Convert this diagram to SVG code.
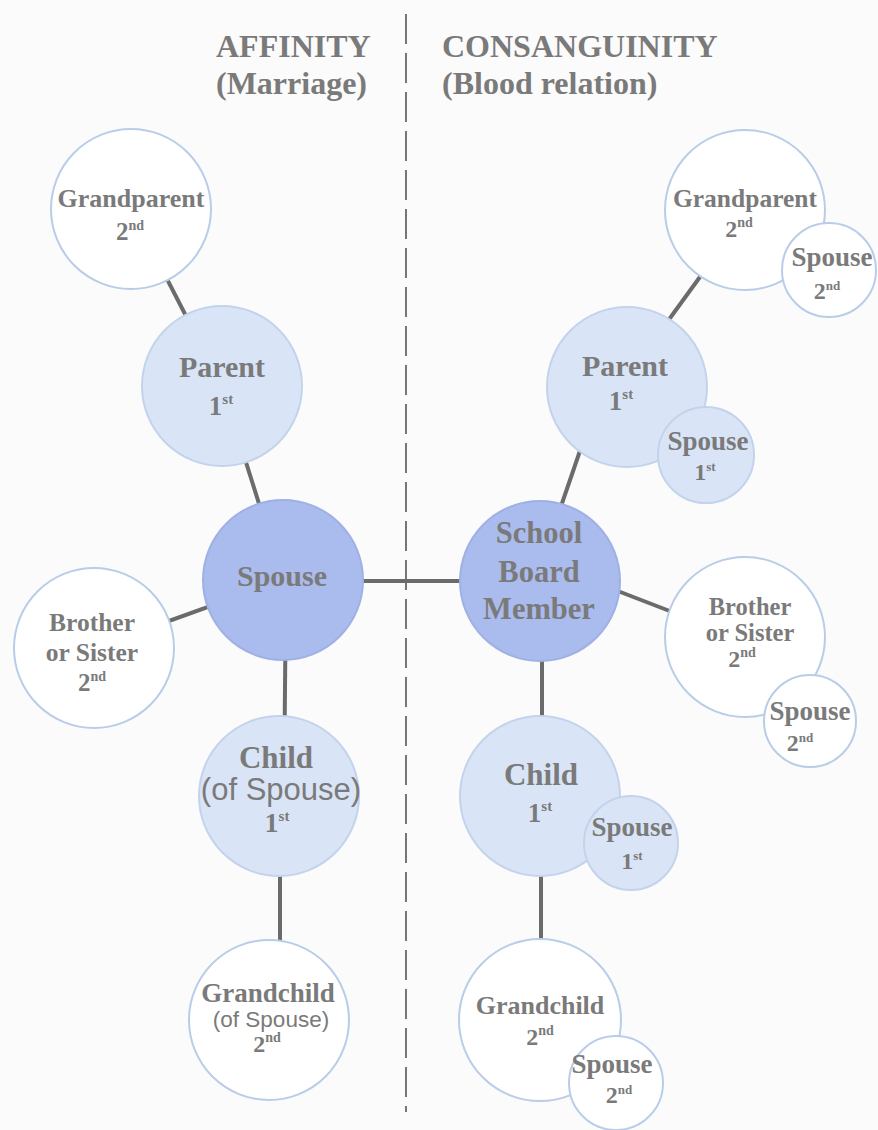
<svg xmlns="http://www.w3.org/2000/svg" width="878" height="1130" viewBox="0 0 878 1130">
<style>
.bg{fill:#fbfbfb}
.hdr{font-family:"Liberation Serif","Times New Roman",serif;font-weight:bold;font-size:32px;fill:#7a7a7a}
.t{font-family:"Liberation Serif","Times New Roman",serif;font-weight:bold;fill:#7a7a7a;text-anchor:middle}
.s{font-family:"Liberation Sans",Arial,sans-serif;fill:#7a7a7a;text-anchor:middle}
.w{fill:#ffffff;stroke:#b9cde8;stroke-width:2}
.l{fill:#d9e5f6;stroke:#c3d3ec;stroke-width:2}
.d{fill:#aabbee;stroke:#9fb1e4;stroke-width:2}
.c{stroke:#6b6b6b;stroke-width:4;fill:none}
.div{stroke:#555;stroke-width:1.6;stroke-dasharray:30 9;fill:none}
</style>
<rect class="bg" x="0" y="0" width="878" height="1130"/>
<line class="div" x1="406" y1="14" x2="406" y2="1112"/>
<g id="headers">
<text class="hdr" x="216" y="57">AFFINITY</text>
<text class="hdr" x="216" y="94">(Marriage)</text>
<text class="hdr" x="442" y="57">CONSANGUINITY</text>
<text class="hdr" x="442" y="94">(Blood relation)</text>
</g>
<g id="connectors">
<line class="c" x1="131" y1="209" x2="222" y2="386"/>
<line class="c" x1="222" y1="386" x2="283" y2="580"/>
<line class="c" x1="283" y1="580" x2="94" y2="648"/>
<line class="c" x1="283" y1="581" x2="540" y2="581"/>
<line class="c" x1="286" y1="580" x2="284" y2="796"/>
<line class="c" x1="280" y1="796" x2="280" y2="1020"/>
<line class="c" x1="558" y1="515" x2="582" y2="445"/>
<line class="c" x1="665" y1="325" x2="705" y2="270"/>
<line class="c" x1="610" y1="588" x2="680" y2="615"/>
<line class="c" x1="542" y1="581" x2="542" y2="796"/>
<line class="c" x1="541" y1="796" x2="541" y2="1020"/>
</g>
<g id="aff-grandparent">
<circle class="w" cx="131" cy="209" r="80"/>
<text class="t" x="131" y="207" font-size="26">Grandparent</text>
<text class="t" x="130" y="240" font-size="25">2<tspan font-size="14" dy="-10">nd</tspan></text>
</g>
<g id="aff-parent">
<circle class="l" cx="222" cy="386" r="80"/>
<text class="t" x="222" y="377" font-size="30">Parent</text>
<text class="t" x="221" y="415" font-size="27">1<tspan font-size="15" dy="-11">st</tspan></text>
</g>
<g id="aff-spouse">
<circle class="d" cx="283" cy="580" r="80"/>
<text class="t" x="282" y="586" font-size="30">Spouse</text>
</g>
<g id="aff-sibling">
<circle class="w" cx="94" cy="648" r="80"/>
<text class="t" x="92" y="631" font-size="25.5">Brother</text>
<text class="t" x="92" y="661" font-size="25.5">or Sister</text>
<text class="t" x="92" y="691" font-size="25">2<tspan font-size="14" dy="-10">nd</tspan></text>
</g>
<g id="aff-child">
<circle class="l" cx="279" cy="796" r="80"/>
<text class="t" x="276" y="768" font-size="31">Child</text>
<text class="s" x="281" y="800" font-size="31">(of Spouse)</text>
<text class="t" x="277" y="832" font-size="28">1<tspan font-size="15" dy="-11">st</tspan></text>
</g>
<g id="aff-grandchild">
<circle class="w" cx="269" cy="1020" r="80"/>
<text class="t" x="268" y="1002" font-size="27">Grandchild</text>
<text class="s" x="271" y="1027" font-size="22.5">(of Spouse)</text>
<text class="t" x="267" y="1052" font-size="24">2<tspan font-size="14" dy="-10">nd</tspan></text>
</g>
<g id="member">
<circle class="d" cx="540" cy="581" r="80"/>
<text class="t" x="539" y="543" font-size="30.5">School</text>
<text class="t" x="539" y="582" font-size="30.5">Board</text>
<text class="t" x="539" y="619" font-size="30.5">Member</text>
</g>
<g id="con-grandparent">
<circle class="w" cx="745" cy="210" r="80"/>
<text class="t" x="745" y="207" font-size="25.5">Grandparent</text>
<text class="t" x="739" y="237" font-size="24">2<tspan font-size="14" dy="-10">nd</tspan></text>
<circle class="w" cx="829" cy="270" r="47"/>
<text class="t" x="832" y="266" font-size="27">Spouse</text>
<text class="t" x="827" y="299" font-size="24">2<tspan font-size="13" dy="-9">nd</tspan></text>
</g>
<g id="con-parent">
<circle class="l" cx="627" cy="387" r="80"/>
<text class="t" x="625" y="376" font-size="30">Parent</text>
<text class="t" x="621" y="410" font-size="27">1<tspan font-size="15" dy="-11">st</tspan></text>
<circle class="l" cx="706" cy="455" r="48"/>
<text class="t" x="708" y="450" font-size="27">Spouse</text>
<text class="t" x="705" y="480" font-size="24">1<tspan font-size="13" dy="-9">st</tspan></text>
</g>
<g id="con-sibling">
<circle class="w" cx="745" cy="637" r="80"/>
<text class="t" x="750" y="615" font-size="24.5">Brother</text>
<text class="t" x="750" y="641" font-size="24.5">or Sister</text>
<text class="t" x="742" y="667" font-size="24">2<tspan font-size="14" dy="-10">nd</tspan></text>
<circle class="w" cx="810" cy="721" r="46"/>
<text class="t" x="810" y="720" font-size="27">Spouse</text>
<text class="t" x="800" y="751" font-size="24">2<tspan font-size="13" dy="-9">nd</tspan></text>
</g>
<g id="con-child">
<circle class="l" cx="540" cy="796" r="80"/>
<text class="t" x="541" y="785" font-size="31">Child</text>
<text class="t" x="540" y="822" font-size="27">1<tspan font-size="15" dy="-11">st</tspan></text>
<circle class="l" cx="631" cy="843" r="47"/>
<text class="t" x="632" y="836" font-size="27">Spouse</text>
<text class="t" x="632" y="869" font-size="24">1<tspan font-size="13" dy="-9">st</tspan></text>
</g>
<g id="con-grandchild">
<circle class="w" cx="540" cy="1020" r="81"/>
<text class="t" x="540" y="1014" font-size="26">Grandchild</text>
<text class="t" x="540" y="1045" font-size="24">2<tspan font-size="14" dy="-10">nd</tspan></text>
<circle class="w" cx="616" cy="1083" r="47"/>
<text class="t" x="612" y="1073" font-size="27">Spouse</text>
<text class="t" x="619" y="1103" font-size="24">2<tspan font-size="13" dy="-9">nd</tspan></text>
</g>
</svg>
